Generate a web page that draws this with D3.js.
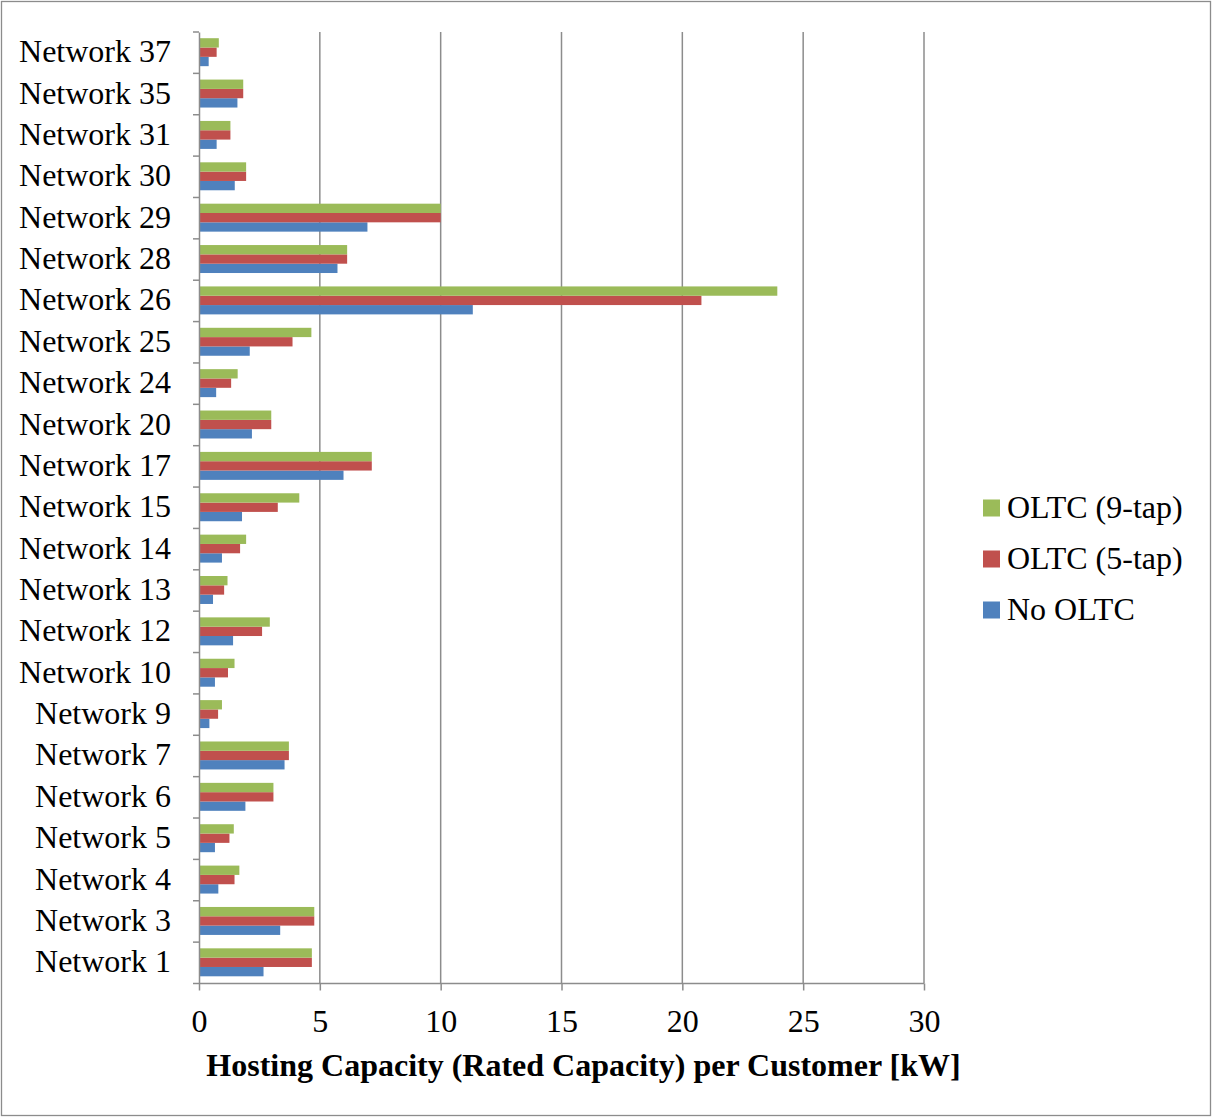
<!DOCTYPE html>
<html>
<head>
<meta charset="utf-8">
<script src="https://cdn.jsdelivr.net/npm/d3@7"></script>
<style>
  html, body { margin: 0; padding: 0; background: #fff; }
  svg { display: block; }
  text { font-family: "Liberation Serif", "Times New Roman", serif; fill: #000; }
</style>
</head>
<body>
<svg id="chart" width="1212" height="1118"></svg>
<script>
// Categories (bottom to top, as in the source chart)
const categories = ["Network 1","Network 3","Network 4","Network 5","Network 6","Network 7","Network 9","Network 10","Network 12","Network 13","Network 14","Network 15","Network 17","Network 20","Network 24","Network 25","Network 26","Network 28","Network 29","Network 30","Network 31","Network 35","Network 37"];
const seriesNames = ["No OLTC","OLTC (5-tap)","OLTC (9-tap)"];
const noOLTC   = [2.67,3.36,0.80,0.66,1.92,3.54,0.43,0.66,1.41,0.58,0.95,1.78,5.98,2.19,0.71,2.10,11.33,5.73,6.97,1.48,0.73,1.59,0.40];
const oltc5tap = [4.67,4.77,1.47,1.26,3.08,3.72,0.79,1.20,2.61,1.04,1.70,3.26,7.15,2.99,1.33,3.87,20.79,6.13,10.0,1.95,1.30,1.83,0.73];
const oltc9tap = [4.67,4.77,1.67,1.44,3.08,3.72,0.95,1.47,2.93,1.18,1.95,4.15,7.15,2.99,1.60,4.65,23.93,6.13,10.0,1.95,1.30,1.83,0.82];
const xTicks = [0,5,10,15,20,25,30];
const xTitle = "Hosting Capacity (Rated Capacity) per Customer [kW]";
const colors = {"No OLTC":"#4F81BD","OLTC (5-tap)":"#C0504D","OLTC (9-tap)":"#9BBB59"};

(function () {
const seriesValues = {"No OLTC": noOLTC, "OLTC (5-tap)": oltc5tap, "OLTC (9-tap)": oltc9tap};
const rows = categories.map((c, i) => ({cat: c, vals: seriesNames.map(s => ({s, v: seriesValues[s][i]}))}));

const svg = d3.select("#chart");
const W = 1212, H = 1118;
const mLeft = 199, mRight = 924, mTop = 32, mBottom = 983.5;
const FS = 32;

// outer border
svg.append("rect").attr("x", 1.5).attr("y", 1.5).attr("width", W - 3).attr("height", H - 4)
  .attr("fill", "#fff").attr("stroke", "#8c8c8c").attr("stroke-width", 1.3);

const x = d3.scaleLinear().domain([0, 30]).range([mLeft, mRight]);
const y = d3.scaleBand().domain(categories.slice().reverse()).range([mTop, mBottom]).padding(0);
const bandH = y.bandwidth();
const groupH = bandH * 0.676;
const inner = d3.scaleBand().domain(["OLTC (9-tap)","OLTC (5-tap)","No OLTC"])
  .range([(bandH - groupH) / 2 - 0.5, (bandH + groupH) / 2 - 0.5]).padding(0);

// gridlines
svg.append("g").selectAll("line").data(xTicks.filter(t => t > 0)).join("line")
  .attr("x1", d => x(d)).attr("x2", d => x(d)).attr("y1", mTop).attr("y2", mBottom)
  .attr("stroke", "#8c8c8c").attr("stroke-width", 1.5);

// bars
const g = svg.append("g");
rows.forEach(r => {
  g.selectAll(null).data(r.vals).join("rect")
    .attr("x", x(0))
    .attr("y", d => y(r.cat) + inner(d.s))
    .attr("width", d => x(d.v) - x(0))
    .attr("height", inner.bandwidth())
    .attr("fill", d => colors[d.s]);
});

// y axis
const yAxis = d3.axisLeft(y).tickSize(0).tickFormat("").tickPadding(0);
const yg = svg.append("g").attr("transform", `translate(${mLeft},0)`).call(yAxis);
yg.select(".domain").attr("stroke", "#8c8c8c").attr("stroke-width", 1.5);
const bounds = categories.map((c, i) => mTop + i * bandH).concat([mBottom]);
svg.append("g").selectAll("line").data(bounds).join("line")
  .attr("x1", mLeft - 6).attr("x2", mLeft).attr("y1", d => d).attr("y2", d => d)
  .attr("stroke", "#8c8c8c").attr("stroke-width", 1.5);
svg.append("g").selectAll("text").data(categories).join("text")
  .attr("x", 171).attr("y", d => y(d) + bandH / 2 + 9.5)
  .attr("text-anchor", "end").attr("font-size", FS)
  .text(d => d);

// x axis
const xAxis = d3.axisBottom(x).tickValues(xTicks).tickSize(7).tickFormat(d3.format("d")).tickPadding(0);
const xg = svg.append("g").attr("transform", `translate(0,${mBottom})`).call(xAxis);
xg.select(".domain").attr("stroke", "#8c8c8c").attr("stroke-width", 1.5).attr("d", `M${mLeft},0H${mRight}`);
xg.selectAll(".tick line").attr("stroke", "#8c8c8c").attr("stroke-width", 1.5);
xg.selectAll(".tick text").attr("y", 48).attr("dy", 0)
  .attr("font-size", FS).attr("font-family", "Liberation Serif, serif").attr("fill", "#000");

svg.append("text").attr("x", (207 + 960) / 2).attr("y", 1076)
  .attr("text-anchor", "middle").attr("font-size", FS).attr("font-weight", "bold")
  .text(xTitle);

// legend
const legendItems = ["OLTC (9-tap)","OLTC (5-tap)","No OLTC"];
const lg = svg.append("g");
legendItems.forEach((s, i) => {
  const cy = 508 + i * 51;
  lg.append("rect").attr("x", 983).attr("y", cy - 8.5).attr("width", 17).attr("height", 17).attr("fill", colors[s]);
  lg.append("text").attr("x", 1007).attr("y", cy + 10).attr("font-size", FS).text(s);
});
})();
</script>
</body>
</html>
